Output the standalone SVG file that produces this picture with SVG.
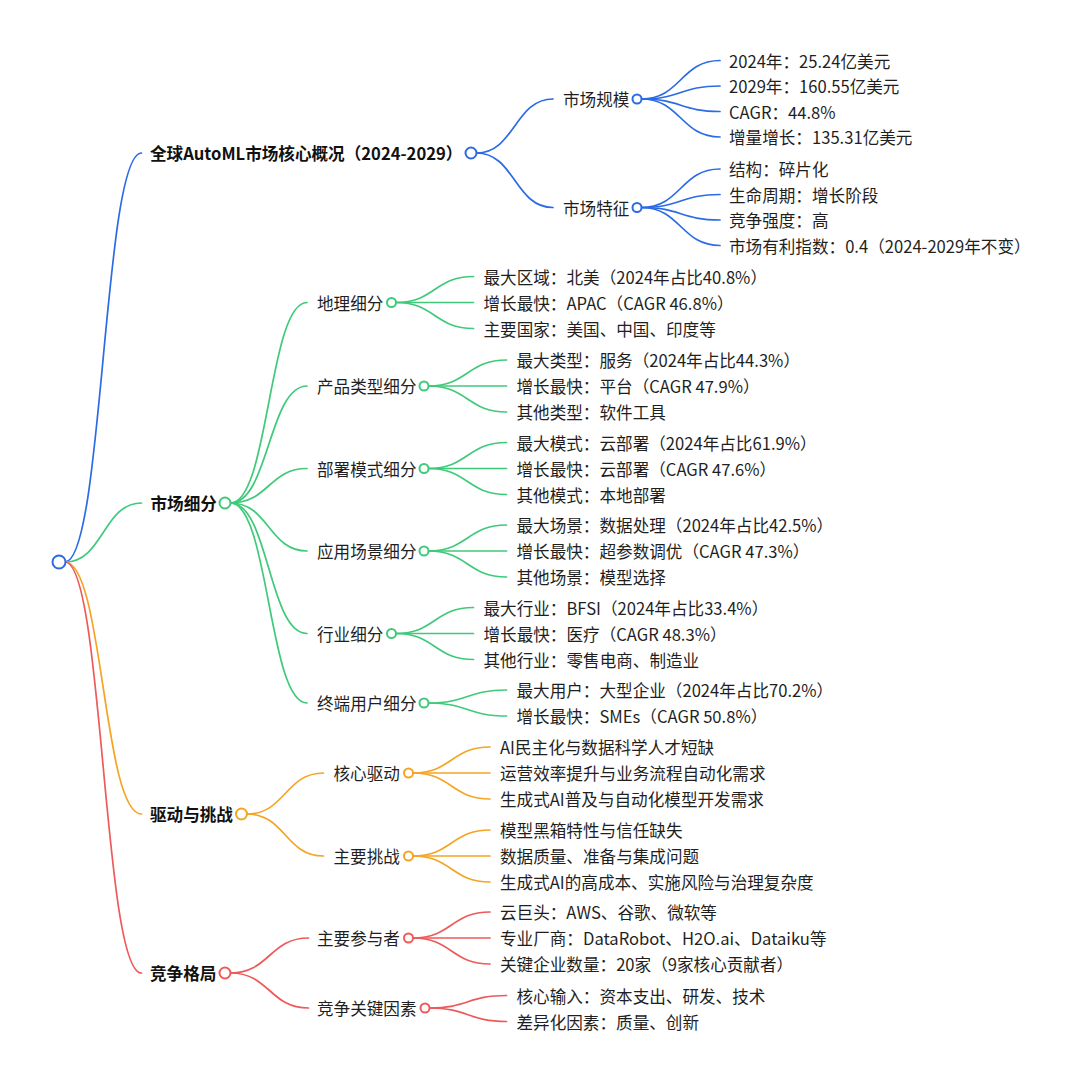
<svg xmlns="http://www.w3.org/2000/svg" width="1080" height="1081" viewBox="0 0 1080 1081">
<style>
text{font-family:"Noto Sans CJK SC","Noto Sans",sans-serif;font-size:16.6px;fill:#1f1f1f;dominant-baseline:central}
.b{font-weight:bold;fill:#111}
path{fill:none;stroke-width:1.7;stroke-linecap:round}
circle{fill:#fff;stroke-width:2}
.blue{stroke:#2b6be6}
.green{stroke:#3fca7a}
.orange{stroke:#f5a423}
.red{stroke:#ee5a5a}
</style>
<rect width="1080" height="1081" fill="#fff"/>
<g id="connectors">
<path class="blue" d="M65,562 C103.25,562 103.25,153 141.5,153"/>
<path class="green" d="M65,562 C103.25,562 103.25,503 141.5,503"/>
<path class="orange" d="M65,562 C103.25,562 103.25,814 141.5,814"/>
<path class="red" d="M65,562 C103.25,562 103.25,973 141.5,973"/>
<path class="blue" d="M476.5,153 C514.75,153 514.75,99 553,99"/>
<path class="blue" d="M476.5,153 C514.75,153 514.75,207.5 553,207.5"/>
<path class="blue" d="M641.5,99 C680.75,99 680.75,60.5 720,60.5"/>
<path class="blue" d="M641.5,99 C680.75,99 680.75,86 720,86"/>
<path class="blue" d="M641.5,99 C680.75,99 680.75,111.5 720,111.5"/>
<path class="blue" d="M641.5,99 C680.75,99 680.75,137 720,137"/>
<path class="blue" d="M641.5,207.5 C680.75,207.5 680.75,169 720,169"/>
<path class="blue" d="M641.5,207.5 C680.75,207.5 680.75,194.5 720,194.5"/>
<path class="blue" d="M641.5,207.5 C680.75,207.5 680.75,220 720,220"/>
<path class="blue" d="M641.5,207.5 C680.75,207.5 680.75,245.5 720,245.5"/>
<path class="green" d="M230.5,503 C268.75,503 268.75,302.5 307,302.5"/>
<path class="green" d="M230.5,503 C268.75,503 268.75,386 307,386"/>
<path class="green" d="M230.5,503 C268.75,503 268.75,468.5 307,468.5"/>
<path class="green" d="M230.5,503 C268.75,503 268.75,551 307,551"/>
<path class="green" d="M230.5,503 C268.75,503 268.75,633.5 307,633.5"/>
<path class="green" d="M230.5,503 C268.75,503 268.75,703 307,703"/>
<path class="green" d="M396,302.5 C434.75,302.5 434.75,276.5 473.5,276.5"/>
<path class="green" d="M396,302.5 C434.75,302.5 434.75,302.5 473.5,302.5"/>
<path class="green" d="M396,302.5 C434.75,302.5 434.75,328.5 473.5,328.5"/>
<path class="green" d="M428.5,386 C467.5,386 467.5,360 506.5,360"/>
<path class="green" d="M428.5,386 C467.5,386 467.5,386 506.5,386"/>
<path class="green" d="M428.5,386 C467.5,386 467.5,412 506.5,412"/>
<path class="green" d="M428.5,468.5 C467.5,468.5 467.5,442.5 506.5,442.5"/>
<path class="green" d="M428.5,468.5 C467.5,468.5 467.5,468.5 506.5,468.5"/>
<path class="green" d="M428.5,468.5 C467.5,468.5 467.5,494.5 506.5,494.5"/>
<path class="green" d="M428.5,551 C467.5,551 467.5,525 506.5,525"/>
<path class="green" d="M428.5,551 C467.5,551 467.5,551 506.5,551"/>
<path class="green" d="M428.5,551 C467.5,551 467.5,577 506.5,577"/>
<path class="green" d="M396,633.5 C434.75,633.5 434.75,607.5 473.5,607.5"/>
<path class="green" d="M396,633.5 C434.75,633.5 434.75,633.5 473.5,633.5"/>
<path class="green" d="M396,633.5 C434.75,633.5 434.75,659.5 473.5,659.5"/>
<path class="green" d="M428.5,703 C467.5,703 467.5,690 506.5,690"/>
<path class="green" d="M428.5,703 C467.5,703 467.5,716 506.5,716"/>
<path class="orange" d="M247,814 C285.25,814 285.25,773 323.5,773"/>
<path class="orange" d="M247,814 C285.25,814 285.25,856 323.5,856"/>
<path class="orange" d="M413,773 C451.5,773 451.5,747 490,747"/>
<path class="orange" d="M413,773 C451.5,773 451.5,773 490,773"/>
<path class="orange" d="M413,773 C451.5,773 451.5,799 490,799"/>
<path class="orange" d="M413,856 C451.5,856 451.5,830 490,830"/>
<path class="orange" d="M413,856 C451.5,856 451.5,856 490,856"/>
<path class="orange" d="M413,856 C451.5,856 451.5,882 490,882"/>
<path class="red" d="M230.5,973 C269.5,973 269.5,938 308.5,938"/>
<path class="red" d="M230.5,973 C269.5,973 269.5,1008 308.5,1008"/>
<path class="red" d="M413,938 C451.5,938 451.5,912 490,912"/>
<path class="red" d="M413,938 C451.5,938 451.5,938 490,938"/>
<path class="red" d="M413,938 C451.5,938 451.5,964 490,964"/>
<path class="red" d="M429.5,1008 C468,1008 468,995.5 506.5,995.5"/>
<path class="red" d="M429.5,1008 C468,1008 468,1021.5 506.5,1021.5"/>
</g>
<g id="root"><circle class="blue" cx="59" cy="562" r="6.5"/></g>
<g id="n-overview"><text class="b" x="150" y="153">全球AutoML市场核心概况（2024-2029）</text><circle class="blue" cx="471" cy="153" r="5.5"/></g>
<g id="n-size"><text x="563" y="99">市场规模</text><circle class="blue" cx="637" cy="99" r="4.5"/></g>
<g id="n-size-leaves"><text x="729" y="60.5">2024年：25.24亿美元</text><text x="729" y="86">2029年：160.55亿美元</text><text x="729" y="111.5">CAGR：44.8%</text><text x="729" y="137">增量增长：135.31亿美元</text></g>
<g id="n-feature"><text x="563" y="207.5">市场特征</text><circle class="blue" cx="637" cy="207.5" r="4.5"/></g>
<g id="n-feature-leaves"><text x="729" y="169">结构：碎片化</text><text x="729" y="194.5">生命周期：增长阶段</text><text x="729" y="220">竞争强度：高</text><text x="729" y="245.5">市场有利指数：0.4（2024-2029年不变）</text></g>
<g id="n-seg"><text class="b" x="150.5" y="503">市场细分</text><circle class="green" cx="225" cy="503" r="5.5"/></g>
<g id="n-geo"><text x="317" y="302.5">地理细分</text><circle class="green" cx="391.5" cy="302.5" r="4.5"/></g>
<g id="n-geo-leaves"><text x="483.5" y="276.5">最大区域：北美（2024年占比40.8%）</text><text x="483.5" y="302.5">增长最快：APAC（CAGR 46.8%）</text><text x="483.5" y="328.5">主要国家：美国、中国、印度等</text></g>
<g id="n-prod"><text x="317" y="386">产品类型细分</text><circle class="green" cx="424" cy="386" r="4.5"/></g>
<g id="n-prod-leaves"><text x="516.5" y="360">最大类型：服务（2024年占比44.3%）</text><text x="516.5" y="386">增长最快：平台（CAGR 47.9%）</text><text x="516.5" y="412">其他类型：软件工具</text></g>
<g id="n-deploy"><text x="317" y="468.5">部署模式细分</text><circle class="green" cx="424" cy="468.5" r="4.5"/></g>
<g id="n-deploy-leaves"><text x="516.5" y="442.5">最大模式：云部署（2024年占比61.9%）</text><text x="516.5" y="468.5">增长最快：云部署（CAGR 47.6%）</text><text x="516.5" y="494.5">其他模式：本地部署</text></g>
<g id="n-app"><text x="317" y="551">应用场景细分</text><circle class="green" cx="424" cy="551" r="4.5"/></g>
<g id="n-app-leaves"><text x="516.5" y="525">最大场景：数据处理（2024年占比42.5%）</text><text x="516.5" y="551">增长最快：超参数调优（CAGR 47.3%）</text><text x="516.5" y="577">其他场景：模型选择</text></g>
<g id="n-ind"><text x="317" y="633.5">行业细分</text><circle class="green" cx="391.5" cy="633.5" r="4.5"/></g>
<g id="n-ind-leaves"><text x="483.5" y="607.5">最大行业：BFSI（2024年占比33.4%）</text><text x="483.5" y="633.5">增长最快：医疗（CAGR 48.3%）</text><text x="483.5" y="659.5">其他行业：零售电商、制造业</text></g>
<g id="n-user"><text x="317" y="703">终端用户细分</text><circle class="green" cx="424" cy="703" r="4.5"/></g>
<g id="n-user-leaves"><text x="516.5" y="690">最大用户：大型企业（2024年占比70.2%）</text><text x="516.5" y="716">增长最快：SMEs（CAGR 50.8%）</text></g>
<g id="n-drive"><text class="b" x="150" y="814">驱动与挑战</text><circle class="orange" cx="241.5" cy="814" r="5.5"/></g>
<g id="n-driver"><text x="333.5" y="773">核心驱动</text><circle class="orange" cx="408.5" cy="773" r="4.5"/></g>
<g id="n-driver-leaves"><text x="500" y="747">AI民主化与数据科学人才短缺</text><text x="500" y="773">运营效率提升与业务流程自动化需求</text><text x="500" y="799">生成式AI普及与自动化模型开发需求</text></g>
<g id="n-chal"><text x="333.5" y="856">主要挑战</text><circle class="orange" cx="408.5" cy="856" r="4.5"/></g>
<g id="n-chal-leaves"><text x="500" y="830">模型黑箱特性与信任缺失</text><text x="500" y="856">数据质量、准备与集成问题</text><text x="500" y="882">生成式AI的高成本、实施风险与治理复杂度</text></g>
<g id="n-comp"><text class="b" x="150" y="973">竞争格局</text><circle class="red" cx="225" cy="973" r="5.5"/></g>
<g id="n-players"><text x="317" y="938">主要参与者</text><circle class="red" cx="408.5" cy="938" r="4.5"/></g>
<g id="n-players-leaves"><text x="500" y="912">云巨头：AWS、谷歌、微软等</text><text x="500" y="938">专业厂商：DataRobot、H2O.ai、Dataiku等</text><text x="500" y="964">关键企业数量：20家（9家核心贡献者）</text></g>
<g id="n-factors"><text x="317" y="1008">竞争关键因素</text><circle class="red" cx="425" cy="1008" r="4.5"/></g>
<g id="n-factors-leaves"><text x="516.5" y="995.5">核心输入：资本支出、研发、技术</text><text x="516.5" y="1021.5">差异化因素：质量、创新</text></g>
</svg>
